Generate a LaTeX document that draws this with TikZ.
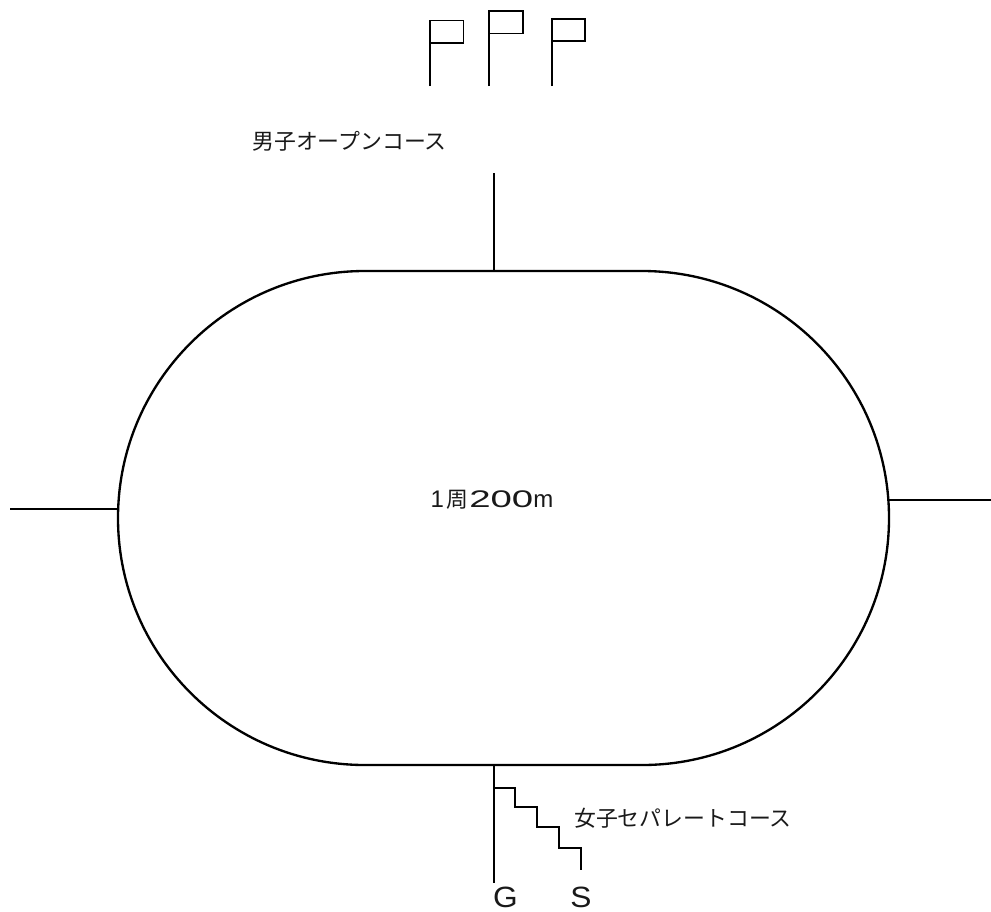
\documentclass[tikz,border=0pt]{standalone}
\usepackage{fontspec}
\newfontfamily\cjk{Noto Sans CJK JP}
\setmainfont{Liberation Sans}
\begin{document}
\begin{tikzpicture}[x=0.75pt,y=-0.75pt,
  line/.style={draw=black,line width=1.75pt,line cap=butt,line join=miter},
  thin line/.style={draw=black,line width=1.4pt},
  lbl/.style={inner sep=0pt,anchor=center,text=black!90},
  cjklabel/.style={lbl,font=\cjk\fontsize{16.4}{16.4}\selectfont},
  lat/.style={lbl,font=\fontsize{22}{22}\selectfont}]
\useasboundingbox (0,0) rectangle (991,911);
\fill[white] (0,0) rectangle (991,911);
% track
\coordinate (tl) at (365,271);
\coordinate (tr) at (642,271);
\coordinate (tm) at (494,271);
\coordinate (bm) at (494,765);
\coordinate (lm) at (118,509);
\coordinate (rm) at (889,500);
\draw[line] (tl) -- (tr) arc[start angle=90,end angle=-90,radius=185.25pt] -- (365,765) arc[start angle=270,end angle=90,radius=185.25pt] -- cycle;
% lines
\coordinate (te) at (494,173);
\coordinate (be) at (494,883);
\coordinate (le) at (10,509);
\coordinate (re) at (991,500);
\draw[line] (te) -- (tm);
\draw[line] (bm) -- (be);
\draw[thin line] (le) -- (lm);
\draw[thin line] (rm) -- (re);
% stairs
\coordinate (s0) at (494,788);
\coordinate (s1) at (581,870);
\draw[thin line] (s0) -- (515,788) -- (515,807) -- (537,807) -- (537,827) -- (559,827) -- (559,848) -- (581,848) -- (s1);
% flags
\draw[thin line] (430,86) -- (430,20.5) -- (463.5,20.5) -- (463.5,43) -- (430,43);
\draw[thin line] (489,86) -- (489,11) -- (523,11) -- (523,33.5) -- (489,33.5);
\draw[thin line] (552,86) -- (552,19) -- (585,19) -- (585,41) -- (552,41);
% labels
\node[cjklabel] (men) at (349.5,141) {男子オープンコース};
\node[cjklabel] (women) at (683,818) {女子セパレートコース};
\node[lbl,font=\fontsize{18}{18}\selectfont] (lap) at (492,500) {1\kern1.5pt{\cjk\fontsize{16.4}{16.4}\selectfont 周}\kern1pt\scalebox{1.6}[1]{2}\scalebox{1.6}[1]{0}\scalebox{1.6}[1]{0}m};
\node[lat] (g) at (505.5,897.5) {\scalebox{1.08}[1]{G}};
\node[lat] (s) at (581,897.5) {\scalebox{1.08}[1]{S}};
\end{tikzpicture}
\end{document}
